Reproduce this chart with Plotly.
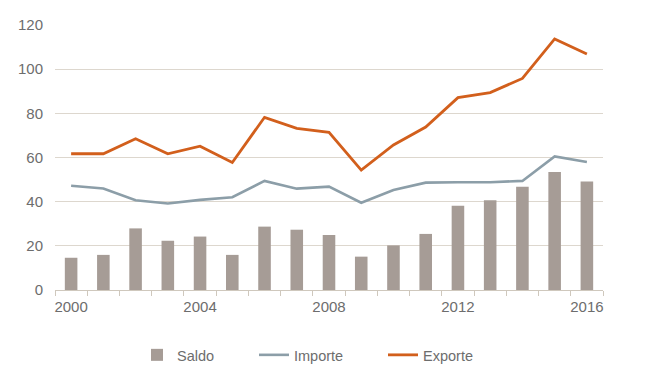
import plotly.graph_objects as go

years = list(range(2000, 2017))
saldo = [14.6, 15.9, 27.9, 22.3, 24.2, 15.9, 28.7, 27.3, 24.9, 15.1, 20.2, 25.4, 38.2, 40.6, 46.8, 53.4, 49.1]
importe = [47.2, 46.0, 40.6, 39.2, 40.8, 42.0, 49.4, 45.9, 46.8, 39.5, 45.3, 48.6, 48.8, 48.8, 49.4, 60.5, 58.0]
exporte = [61.7, 61.7, 68.5, 61.7, 65.1, 57.7, 78.2, 73.2, 71.4, 54.3, 65.7, 73.8, 87.1, 89.4, 95.8, 113.7, 106.9]
x_ticks = [2000, 2004, 2008, 2012, 2016]
y_ticks = [0, 20, 40, 60, 80, 100, 120]

text_color = "#6d6d6d"
family = "Liberation Sans, Arial, sans-serif"
font = dict(family=family, size=15, color=text_color)
leg_font = dict(family=family, size=14.5, color=text_color)

fig = go.Figure()
fig.add_trace(go.Bar(x=years, y=saldo, name="Saldo", marker=dict(color="#a69c96", line=dict(width=0)),
                     width=0.39, legend="legend"))
fig.add_trace(go.Scatter(x=years, y=importe, name="Importe", mode="lines",
                         line=dict(color="#8c9ea8", width=2.6), legend="legend2"))
fig.add_trace(go.Scatter(x=years, y=exporte, name="Exporte", mode="lines",
                         line=dict(color="#d25f1c", width=2.8), legend="legend3"))

leg = dict(orientation="h", yanchor="middle", y=-0.245, xanchor="left",
           font=leg_font, bgcolor="rgba(0,0,0,0)", borderwidth=0)

fig.update_layout(
    width=650, height=377,
    margin=dict(l=55, r=47, t=25, b=87, autoexpand=False),
    paper_bgcolor="white", plot_bgcolor="white",
    font=font,
    showlegend=True,
    legend=dict(leg, x=(137 - 55) / 548),
    legend2=dict(leg, x=(254 - 55) / 548),
    legend3=dict(leg, x=(383 - 55) / 548),
    xaxis=dict(
        range=[1999.5, 2016.5], tickvals=x_ticks, ticktext=[str(v) for v in x_ticks],
        ticks="", showgrid=False, showline=True, linecolor="#cfc8bd", linewidth=1,
        zeroline=False, ticklabelstandoff=3, automargin=False,
        minor=dict(tick0=1999.5, dtick=1, ticks="outside", ticklen=5, tickcolor="#cfc8bd", showgrid=False),
    ),
    yaxis=dict(
        range=[0, 120], tickvals=y_ticks, showgrid=True, gridcolor="#ddd7ce", gridwidth=1,
        zeroline=False, showline=False, ticks="", ticklabelstandoff=11, automargin=False,
    ),
)

fig.write_html("out.html", config={"displayModeBar": False},
               post_script="document.body.style.margin='0';")
